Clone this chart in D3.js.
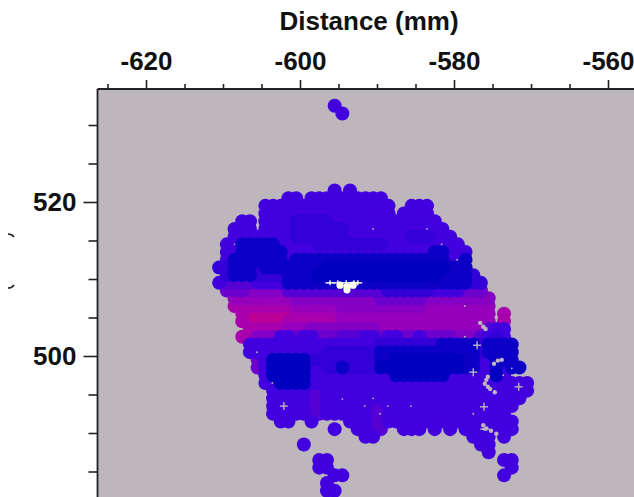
<!DOCTYPE html>
<meta charset="utf-8">
<style>
html, body { margin: 0; background: #fff; }
svg { display: block; }
text { font-family: "Liberation Sans", sans-serif; font-weight: bold; fill: #111; }
.tick line { stroke: #222; stroke-width: 1.6px; }
.tick text { font-size: 26px; }
</style>
<svg width="634" height="497"></svg>
<script src="https://d3js.org/d3.v7.min.js"></script>
<script>

var xMajor = [-620, -600, -580, -560];
var xMinor = [-625, -615, -610, -605, -595, -590, -585, -575, -570, -565];
var yMajor = [520, 500];
var yMinor = [530, 525, 515, 510, 505, 495, 490, 485];

// x position (mm) of each character in the spot rows
var colX = [-610.5, -609.5, -608.5, -607.5, -606.5, -605.5, -604.5, -603.5, -602.5, -601.5,
  -600.5, -599.5, -598.5, -597.5, -596.5, -595.5, -594.5, -593.5, -592.5, -591.5,
  -590.5, -589.5, -588.5, -587.5, -586.5, -585.5, -584.5, -583.5, -582.5, -581.5,
  -580.5, -579.5, -578.5, -577.5, -576.5, -575.5, -574.5, -573.5, -572.5, -571.5, -570.5];

var rowY = [532.5, 531.5,
  521.5, 520.5, 519.5, 518.5, 517.5, 516.5, 515.5, 514.5, 513.5, 512.5,
  511.5, 510.5, 509.5, 508.5, 507.5, 506.5, 505.5, 504.5, 503.5, 502.5,
  501.5, 500.5, 499.5, 498.5, 497.5, 496.5, 495.5, 494.5, 493.5, 492.5,
  491.5, 490.5, 489.5, 488.5, 487.5, 486.5, 485.5, 484.5, 483.5, 482.5];

// one digit per spot, 0 = deep blue up to 9 = magenta, "." = no spot
var rowLevels = [
  "...............3.........................",
  "................3........................",
  "...............3.3.......................",
  ".........33.3333333333...................",
  "......33333333333333333..333.............",
  "......33333333333333333.3333.............",
  "...33.33332222233333333333333............",
  "..333.333322222223333333333333...........",
  "..33333333222222233333333222333..........",
  ".3.11111333332222222223333333333.........",
  ".33111111333333333333333333311333........",
  ".31111111311111111111111111111331........",
  "221112111111110000000000000000111........",
  ".211122221111000000000000000011112.......",
  "34444333311111111111111111111111122......",
  ".5556666644444444444442222223333555......",
  "..7777777766666666666555555666666666.....",
  "..8888888877777766666666666777777777.....",
  "...899999988888877777777777777777777.8...",
  "...899999888888877777777777777777777.8...",
  "....8888877766666666677777777777777433...",
  "...88666335335554443353355355556664323...",
  "....33333333333333333222222221111121111..",
  "....33333333332222222111111111121121111..",
  ".....5300000222222222110000000001133111..",
  ".....53000003322122220000000000011331311.",
  "......30000033333333333000000033333303...",
  "......33000033333333333333333333333333333",
  ".......3333344333333333333333333333333333",
  ".......333334433333333333333333333333333.",
  ".......33333443333334433333333333333333..",
  ".......3333344333333443333333333333333...",
  "........33..3....3334433333333333333333..",
  "...............3..3344..333.3.3.33..333..",
  "...................33............333.3...",
  "...........3......................33.....",
  "...................................3.....",
  ".............33......................33..",
  ".............33.......................3..",
  "...............33....................3...",
  "..............3..........................",
  "..............33........................."
];

// places inside the cloud where the background shows through (mm)
var pinX = [-590.5, -583.5, -581.6, -579.6, -578.6, -578.6, -605.6, -603.6, -594.5, -591.6, -590.5, -588.6, -585.6, -589.6, -577.5, -572.5, -573.6];
var pinY = [516.5, 516.5, 514.5, 512.5, 506.5, 502.5, 500.5, 496.5, 494.4, 493.5, 494.5, 493.5, 493.5, 492.5, 492.5, 498.4, 497.5];
var crossX = [-602.1, -577.0, -577.5, -576.1, -571.6];
var crossY = [493.5, 501.4, 497.9, 493.4, 496.0];
var holeX = [-576.2, -575.9, -576.6, -574.3, -574.8, -573.8, -575.6, -575.8, -576.0, -575.6, -575.3, -574.7, -576.2, -575.8, -575.2, -574.5];
var holeY = [503.8, 503.5, 504.3, 499.4, 499.0, 499.5, 497.3, 496.9, 496.4, 496.0, 495.7, 495.3, 491.0, 490.6, 490.3, 489.9];
// the white patch in the middle
var whiteLineX = [-596.1, -595.1, -594.0, -593.0, -592.5];
var whiteLineY = [509.5, 509.5, 509.5, 509.5, 509.5];
var whitePatchX = [-594.8, -593.1, -593.9, -593.9];
var whitePatchY = [509.2, 509.2, 509.0, 508.6];

var levelColors = ["#0000c0", "#0c00c6", "#3400d8", "#4200de", "#5600d4", "#6c00cc", "#8400c4", "#9600bc", "#a800ac", "#bc0098"];

var svg = d3.select("svg");
var x = d3.scaleLinear().domain([-620, -560]).range([146, 608]);
var y = d3.scaleLinear().domain([520, 500]).range([202, 356]);
var color = d3.scaleOrdinal().domain(d3.range(10)).range(levelColors);

var left = 97.5, top_ = 89;

svg.append("rect").attr("x", left).attr("y", top_)
    .attr("width", 634 - left).attr("height", 497 - top_).attr("fill", "#bdb6bd");

var spots = [];
rowLevels.forEach(function(row, r) {
  row.split("").forEach(function(c, i) {
    if (c != ".") spots.push({x: colX[i], y: rowY[r], level: +c});
  });
});
// darker spots end up on top
spots.sort(function(a, b) { return b.level - a.level; });

svg.append("g").selectAll("circle")
    .data(spots)
    .enter().append("circle")
    .attr("cx", function(d) { return x(d.x); })
    .attr("cy", function(d) { return y(d.y); })
    .attr("r", 7)
    .attr("fill", function(d) { return color(d.level); });

function drawCrosses(xs, ys, armX, armY, stroke) {
  var g = svg.append("g").attr("stroke", stroke).attr("stroke-width", 1.4);
  xs.forEach(function(v, i) {
    g.append("line").attr("x1", x(v) - armX).attr("x2", x(v) + armX).attr("y1", y(ys[i])).attr("y2", y(ys[i]));
    g.append("line").attr("x1", x(v)).attr("x2", x(v)).attr("y1", y(ys[i]) - armY).attr("y2", y(ys[i]) + armY);
  });
}

function drawBlobs(xs, ys, r, fill) {
  svg.append("g").selectAll("circle")
      .data(d3.range(xs.length))
      .enter().append("circle")
      .attr("cx", function(i) { return x(xs[i]); })
      .attr("cy", function(i) { return y(ys[i]); })
      .attr("r", r)
      .attr("fill", fill);
}

drawBlobs(pinX, pinY, 0.9, "#bdb6bd");
drawCrosses(crossX, crossY, 4, 4, "#bdb6bd");
drawBlobs(holeX, holeY, 2.2, "#bdb6bd");
drawCrosses(whiteLineX, whiteLineY, 4.5, 2.5, "#fffff0");
drawBlobs(whitePatchX, whitePatchY, 3.6, "#fffff0");

// axes
function tickLabel(d) { return String(d); }

var gTop = svg.append("g").attr("transform", "translate(0," + top_ + ")");
gTop.append("g").call(d3.axisTop(x).tickValues(xMinor).tickSize(5).tickFormat(""));
gTop.append("g").call(d3.axisTop(x).tickValues(xMajor).tickSize(9).tickPadding(10).tickFormat(tickLabel));

var gLeft = svg.append("g").attr("transform", "translate(" + left + ",0)");
gLeft.append("g").call(d3.axisLeft(y).tickValues(yMinor).tickSize(9).tickFormat(""));
gLeft.append("g").call(d3.axisLeft(y).tickValues(yMajor).tickSize(14).tickPadding(7).tickFormat(tickLabel));

svg.selectAll(".domain").remove();
svg.selectAll(".tick text").attr("fill", "#111");

svg.append("line").attr("x1", left).attr("x2", 634).attr("y1", top_).attr("y2", top_)
    .attr("stroke", "#222").attr("stroke-width", 1.8);
svg.append("line").attr("x1", left).attr("x2", left).attr("y1", top_).attr("y2", 497)
    .attr("stroke", "#222").attr("stroke-width", 1.8);

svg.append("text")
    .attr("x", 369).attr("y", 30)
    .attr("text-anchor", "middle")
    .attr("font-size", 26)
    .text("Distance (mm)");

// tips of the cut off vertical title
svg.append("path").attr("d", "M8,234 Q12,234 14,237").attr("fill", "none").attr("stroke", "#222").attr("stroke-width", 1.5);
svg.append("path").attr("d", "M8,288 Q12,288 14,285").attr("fill", "none").attr("stroke", "#222").attr("stroke-width", 1.5);

</script>
